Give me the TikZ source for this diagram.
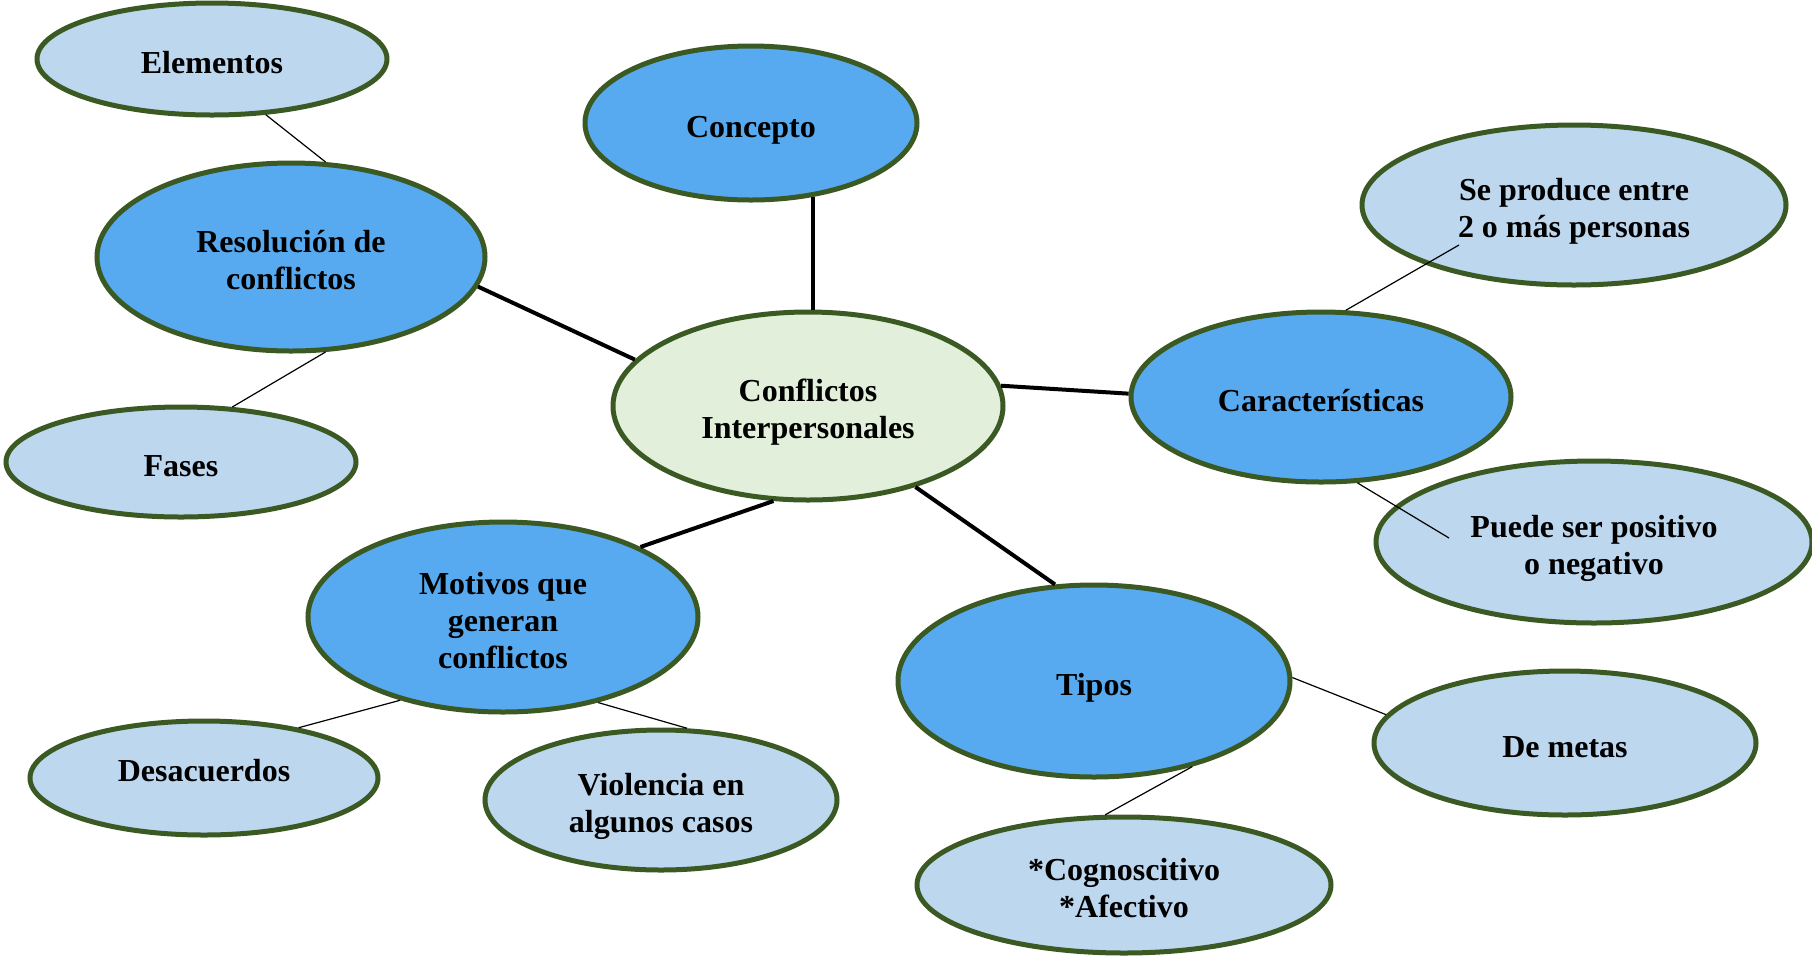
\documentclass[tikz,border=0pt]{standalone}
\usepackage{fontspec}
\setmainfont{Liberation Serif}
\usetikzlibrary{calc,shapes.geometric}
\definecolor{rim}{RGB}{59,89,35}
\definecolor{midblue}{RGB}{88,170,240}
\definecolor{paleblue}{RGB}{189,215,238}
\definecolor{palegreen}{RGB}{226,239,218}

\begin{document}
\begin{tikzpicture}[
    x=0.5pt,y=-0.5pt,
    blob/.style={ellipse,draw=rim,line width=2.5pt,inner sep=0pt,align=center,
                 font=\bfseries\fontsize{16}{18.5}\selectfont,
                 text height=14.4pt,text depth=0pt},
    hub/.style={blob,fill=palegreen},
    branch/.style={blob,fill=midblue},
    leaf/.style={blob,fill=paleblue},
    twoline/.style={text height=32.9pt},
    threeline/.style={text height=51.4pt},
    high/.style={text height=3.6pt},
    trunk/.style={line width=2pt},
    twig/.style={line width=0.6pt}]
  \useasboundingbox (0,0) rectangle (1812,955);
  % centre and main branches
  \node[hub,twoline,minimum width=195pt,minimum height=94pt] (cen) at (808,406) {Conflictos\\Interpersonales};
  \node[branch,minimum width=166pt,minimum height=77pt] (concepto) at (751,123) {Concepto};
  \node[branch,twoline,minimum width=194pt,minimum height=94pt] (resol) at (291,257) {Resolución de\\conflictos};
  \node[branch,minimum width=190pt,minimum height=85pt] (car) at (1321,397) {Características};
  \node[branch,threeline,minimum width=195pt,minimum height=95pt] (motivos) at (503,617) {Motivos que\\generan\\conflictos};
  \node[branch,minimum width=196pt,minimum height=96pt] (tipos) at (1094,681) {Tipos};
  % leaves
  \node[leaf,minimum width=175pt,minimum height=56pt] (elem) at (212,59) {Elementos};
  \node[leaf,minimum width=175pt,minimum height=55pt] (fases) at (181,462) {Fases};
  \node[leaf,twoline,minimum width=212pt,minimum height=80pt] (se) at (1574,205) {Se produce entre\\2 o más personas};
  \node[leaf,twoline,minimum width=218pt,minimum height=81pt] (puede) at (1594,542) {Puede ser positivo\\o negativo};
  \node[leaf,high,minimum width=174pt,minimum height=57pt] (desac) at (204,778) {Desacuerdos};
  \node[leaf,twoline,minimum width=176pt,minimum height=70pt] (viol) at (661,800) {Violencia en\\algunos casos};
  \node[leaf,minimum width=191pt,minimum height=72pt] (metas) at (1565,743) {De metas};
  \node[leaf,twoline,minimum width=207pt,minimum height=68pt] (cog) at (1124,885) {*Cognoscitivo\\*Afectivo};
  % connectors
  \draw[trunk] (concepto.-50) -- (concepto.-50 |- cen.north);
  \draw[trunk] (resol.-9) -- (cen.165);
  \draw[trunk] (cen.6) -- (car.179);
  \draw[trunk] (cen.-110) -- (motivos.27);
  \draw[trunk] (cen.-37) -- (tipos.112);
  \draw[twig] (elem.-46) -- (resol.70);
  \draw[twig] (resol.-70) -- (fases.47);
  \draw[twig] (car.74) -- ($(se.center)+(-115,40)$);
  \draw[twig] (car.-67) -- ($(puede.center)+(-145,-4)$);
  \draw[twig] (motivos.-141) -- (desac.28);
  \draw[twig] (motivos.-42) -- (viol.70);
  \draw[twig] (tipos.1) -- (metas.171);
  \draw[twig] (tipos.-41) -- (cog.105);
\end{tikzpicture}
\end{document}
